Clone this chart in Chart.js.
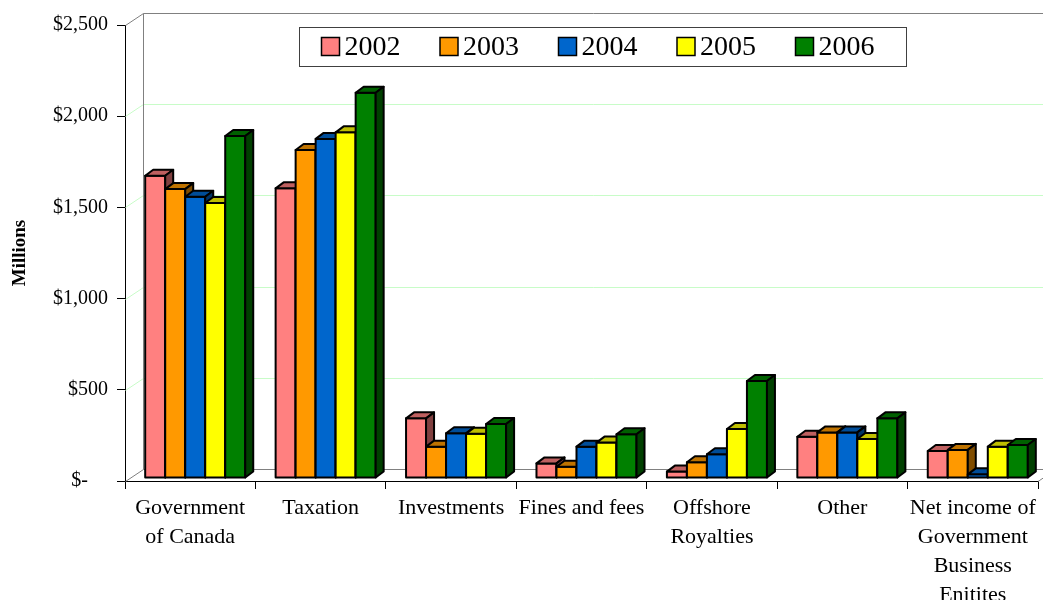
<!DOCTYPE html>
<html lang="en">
<head>
<meta charset="UTF-8">
<title>Revenue by source, 2002-2006</title>
<script src="https://cdn.jsdelivr.net/npm/chart.js"></script>
<style>
  html, body { margin: 0; padding: 0; background: #fff; }
  #wrap { width: 1043px; height: 600px; position: relative; }
</style>
</head>
<body>
<div id="wrap"><canvas id="chart"></canvas></div>
<script>
  // revenue by source, millions of dollars
  const categories = [
    ['Government', 'of Canada'],
    'Taxation',
    'Investments',
    'Fines and fees',
    ['Offshore', 'Royalties'],
    'Other',
    ['Net income of', 'Government', 'Business', 'Enitites']
  ];
  const years = ['2002', '2003', '2004', '2005', '2006'];
  const colors = ['#FF8080', '#FF9900', '#0066CC', '#FFFF00', '#008000'];
  const v2002 = [1657, 1588, 327, 80, 35, 226, 148];
  const v2003 = [1584, 1798, 172, 62, 86, 250, 154];
  const v2004 = [1542, 1859, 245, 172, 130, 250, 20];
  const v2005 = [1508, 1895, 243, 194, 269, 214, 172];
  const v2006 = [1875, 2112, 296, 240, 532, 327, 181];
  const yTicks = [0, 500, 1000, 1500, 2000, 2500];

  const FONT = '"Liberation Serif", "Times New Roman", serif';
  const WALL = { dx: 18, dy: -12 };   // depth of the floor / side wall
  const SHIFT = { dx: 5, dy: -3 };    // bars sit a little behind the front edge
  const DEPTH = { dx: 8, dy: -6 };    // depth of each bar

  function shade(hex, f) {
    const n = parseInt(hex.slice(1), 16);
    const r = Math.round(((n >> 16) & 255) * f);
    const g = Math.round(((n >> 8) & 255) * f);
    const b = Math.round((n & 255) * f);
    return `rgb(${r},${g},${b})`;
  }

  const box3d = {
    id: 'box3d',
    beforeDatasetsDraw(chart) {
      const { ctx, chartArea: a, scales: { y } } = chart;
      const L = a.left + 0.5;
      ctx.save();
      ctx.lineWidth = 1;

      // gridlines on the back wall
      ctx.strokeStyle = '#c8fcc8';
      yTicks.slice(1, -1).forEach(v => {
        const py = Math.round(y.getPixelForValue(v)) + 0.5;
        ctx.beginPath();
        ctx.moveTo(L, py);
        ctx.lineTo(L + WALL.dx, py + WALL.dy);
        ctx.lineTo(chart.width, py + WALL.dy);
        ctx.stroke();
      });

      // wall and floor edges
      const top = Math.round(y.getPixelForValue(yTicks[yTicks.length - 1])) + 0.5;
      const bot = Math.round(y.getPixelForValue(0)) + 0.5;
      ctx.strokeStyle = '#808080';
      ctx.beginPath();
      ctx.moveTo(L, top);
      ctx.lineTo(L + WALL.dx, top + WALL.dy);
      ctx.lineTo(chart.width, top + WALL.dy);
      ctx.moveTo(L + WALL.dx, top + WALL.dy);
      ctx.lineTo(L + WALL.dx, bot + WALL.dy);
      ctx.moveTo(L, bot);
      ctx.lineTo(L + WALL.dx, bot + WALL.dy);
      ctx.lineTo(a.right + WALL.dx, bot + WALL.dy);
      ctx.lineTo(a.right, bot);
      ctx.stroke();
      ctx.restore();
    },
    // bars are drawn below as boxes, in dataset order
    beforeDatasetDraw() { return false; },
    afterDatasetsDraw(chart) {
      const { ctx } = chart;
      ctx.save();
      ctx.lineWidth = 2;
      ctx.strokeStyle = '#000';
      ctx.lineJoin = 'round';
      chart.data.datasets.forEach((ds, i) => {
        const meta = chart.getDatasetMeta(i);
        const c = ds.backgroundColor;
        meta.data.forEach(bar => {
          const { x, y, base, width } = bar.getProps(['x', 'y', 'base', 'width'], true);
          const l = x - width / 2 + SHIFT.dx;
          const r = x + width / 2 + SHIFT.dx;
          const t = y + SHIFT.dy;
          const b = base + SHIFT.dy;

          ctx.fillStyle = c;
          ctx.fillRect(l, t, r - l, b - t);
          ctx.strokeRect(l, t, r - l, b - t);

          ctx.beginPath();
          ctx.moveTo(l, t);
          ctx.lineTo(l + DEPTH.dx, t + DEPTH.dy);
          ctx.lineTo(r + DEPTH.dx, t + DEPTH.dy);
          ctx.lineTo(r, t);
          ctx.closePath();
          ctx.fillStyle = shade(c, 0.75);
          ctx.fill();
          ctx.stroke();

          ctx.beginPath();
          ctx.moveTo(r, t);
          ctx.lineTo(r + DEPTH.dx, t + DEPTH.dy);
          ctx.lineTo(r + DEPTH.dx, b + DEPTH.dy);
          ctx.lineTo(r, b);
          ctx.closePath();
          ctx.fillStyle = shade(c, 0.5);
          ctx.fill();
          ctx.stroke();
        });
      });
      ctx.restore();
    },
    // boxed legend inside the plot
    afterDraw(chart) {
      const { ctx, chartArea: a } = chart;
      const bx = a.left + 174.5, by = 27.5, bw = 607, bh = 39;
      ctx.save();
      ctx.fillStyle = '#fff';
      ctx.fillRect(bx, by, bw, bh);
      ctx.strokeStyle = '#404040';
      ctx.lineWidth = 1;
      ctx.strokeRect(bx, by, bw, bh);
      ctx.font = `28px ${FONT}`;
      ctx.textBaseline = 'middle';
      chart.data.datasets.forEach((ds, i) => {
        const sx = bx + 22 + i * 118.5;
        const sy = by + 10;
        ctx.fillStyle = ds.backgroundColor;
        ctx.fillRect(sx, sy, 18, 18);
        ctx.strokeStyle = '#000';
        ctx.lineWidth = 1.5;
        ctx.strokeRect(sx, sy, 18, 18);
        ctx.fillStyle = '#000';
        ctx.fillText(ds.label, sx + 23, sy + 10);
      });
      ctx.restore();
    }
  };

  const series = [v2002, v2003, v2004, v2005, v2006];

  new Chart(document.getElementById('chart'), {
    type: 'bar',
    data: {
      labels: categories,
      datasets: years.map((yr, i) => ({
        label: yr,
        data: series[i],
        backgroundColor: colors[i],
        categoryPercentage: 0.767,
        barPercentage: 1
      }))
    },
    options: {
      responsive: true,
      maintainAspectRatio: false,
      animation: false,
      layout: { padding: { top: 25, right: 5, left: 0, bottom: 0 } },
      plugins: {
        legend: { display: false },
        tooltip: { enabled: false }
      },
      scales: {
        x: {
          afterFit(scale) { scale.height = 119; },
          grid: { drawOnChartArea: false, color: '#000', tickLength: 8, offset: true },
          border: { color: '#000', width: 1 },
          ticks: {
            color: '#000',
            font: { family: FONT, size: 22, lineHeight: 1.32 },
            padding: 5,
            maxRotation: 0,
            autoSkip: false
          }
        },
        y: {
          min: 0,
          max: 2500,
          afterFit(scale) { scale.width = 125; },
          afterBuildTicks(scale) { scale.ticks = yTicks.map(v => ({ value: v })); },
          grid: { drawOnChartArea: false, color: '#000', tickLength: 8 },
          border: { color: '#000', width: 1 },
          ticks: {
            color: '#000',
            font: { family: FONT, size: 20 },
            padding: 9,
            callback: v => v === 0 ? '$-    ' : '$' + v.toLocaleString('en-US')
          },
          title: {
            display: true,
            text: 'Millions',
            color: '#000',
            font: { family: FONT, size: 19, weight: 'bold' },
            padding: { top: 9, bottom: 0 }
          }
        }
      }
    },
    plugins: [box3d]
  });
</script>
</body>
</html>
